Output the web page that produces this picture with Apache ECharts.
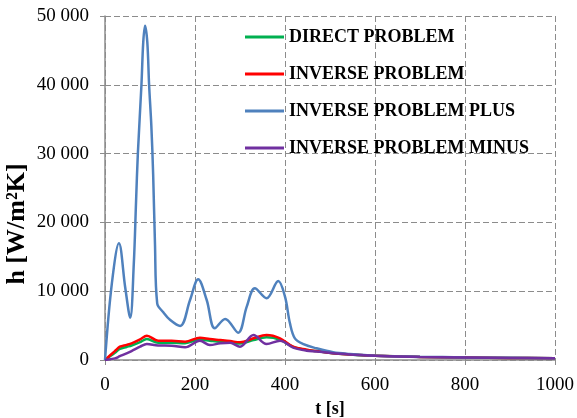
<!DOCTYPE html>
<html>
<head>
<meta charset="utf-8">
<script src="https://cdn.jsdelivr.net/npm/echarts@6/dist/echarts.min.js"></script>
<style>
  html, body { margin: 0; padding: 0; background: #fff; }
  #chart { width: 577px; height: 418px; }
</style>
</head>
<body>
<div id="chart"></div>
<script>
(function(){
  var myChart = echarts.init(document.getElementById('chart'));

  var seriesNames = ['DIRECT PROBLEM', 'INVERSE PROBLEM', 'INVERSE PROBLEM PLUS', 'INVERSE PROBLEM MINUS'];
  var colors = ['#00b050', '#ff0000', '#4f81bd', '#7030a0'];

  // time samples [s] for the direct / inverse / minus curves
  var times = [0, 22, 33, 48, 59, 78, 93, 118, 148, 178, 211, 233, 256, 278, 300, 330, 359, 389, 418, 448, 470, 507, 544, 600, 700, 800, 900, 1000];
  var direct  = [0, 1050, 1600, 1900, 2100, 2600, 3050, 2500, 2500, 2450, 2950, 2800, 2650, 2550, 2400, 2900, 3300, 2950, 1900, 1450, 1300, 970, 800, 610, 450, 370, 300, 250];
  var inverse = [0, 1300, 1930, 2200, 2420, 3000, 3540, 2800, 2800, 2660, 3240, 3050, 2900, 2750, 2570, 3150, 3630, 3150, 1930, 1500, 1300, 970, 800, 600, 450, 370, 300, 250];
  var minus   = [0, 240, 550, 970, 1300, 1930, 2330, 2100, 2080, 1840, 2800, 2180, 2420, 2520, 1930, 3630, 2330, 2800, 1800, 1350, 1250, 970, 800, 620, 450, 370, 300, 250];

  // time samples [s] for the "plus" curve
  var timesPlus = [0, 15, 31, 45, 56, 64, 69, 73, 81, 85, 89, 94, 98, 103, 107, 111, 116, 130, 145, 167, 189, 207, 226, 244, 267, 296, 315, 333, 359, 385, 400, 411, 422, 441, 470, 507, 544, 600, 700, 800, 900, 1000];
  var plus = [0, 11000, 16960, 10500, 6150, 14000, 23000, 30000, 40000, 46200, 48600, 46200, 40000, 34000, 27000, 17000, 8240, 6900, 5800, 4940, 8720, 11730, 8720, 4600, 5960, 3970, 7750, 10420, 8970, 11480, 9200, 5330, 3150, 2300, 1700, 1120, 870, 630, 480, 380, 310, 250];

  var xTicks = [0, 200, 400, 600, 800, 1000];

  function pairs(t, v) {
    var res = [];
    for (var i = 0; i < t.length; i++) res.push([t[i], v[i]]);
    return res;
  }
  function mkSeries(idx, data) {
    return {
      name: seriesNames[idx],
      type: 'line',
      data: data,
      symbol: 'none',
      smooth: 0.35,
      lineStyle: { color: colors[idx], width: 2.5 },
      itemStyle: { color: colors[idx] }
    };
  }

  var serif = '"Liberation Serif", "Times New Roman", serif';

  var option = {
    animation: false,
    grid: { left: 105, right: 22, top: 16, bottom: 58, containLabel: false, outerBoundsMode: 'none' },
    legend: {
      orient: 'vertical',
      left: 240,
      top: 23,
      icon: 'rect',
      itemWidth: 39,
      itemHeight: 3,
      itemGap: 19,
      data: seriesNames,
      textStyle: { fontFamily: serif, fontWeight: 'bold', fontSize: 18, color: '#000' }
    },
    xAxis: {
      type: 'value',
      min: 0,
      max: 1000,
      interval: 200,
      name: 't [s]',
      nameLocation: 'middle',
      nameGap: 34,
      nameTextStyle: { fontFamily: serif, fontWeight: 'bold', fontSize: 18, color: '#000' },
      axisLine: { lineStyle: { color: '#8c8c8c', width: 1.5 } },
      axisTick: { show: true, length: 5, lineStyle: { color: '#8c8c8c' } },
      axisLabel: {
        margin: 16,
        fontFamily: serif, fontSize: 19, color: '#000',
        formatter: function(v) { return xTicks.indexOf(v) >= 0 ? String(v) : ''; }
      },
      splitLine: { show: true, lineStyle: { color: '#8c8c8c', type: [6, 3], width: 1 } }
    },
    yAxis: {
      type: 'value',
      min: 0,
      max: 50000,
      interval: 10000,
      axisLine: { show: true, lineStyle: { color: '#8c8c8c', width: 1.5 } },
      axisTick: { show: true, length: 5, lineStyle: { color: '#8c8c8c' } },
      axisLabel: {
        margin: 16,
        fontFamily: serif, fontSize: 19, color: '#000',
        formatter: function(v) {
          return String(v).replace(/\B(?=(\d{3})+(?!\d))/g, ' ');
        }
      },
      splitLine: { show: true, lineStyle: { color: '#8c8c8c', type: [6, 3], width: 1 } }
    },
    graphic: [{
      type: 'text',
      x: 17,
      y: 224,
      rotation: Math.PI / 2,
      style: {
        text: 'h [W/m²K]',
        fontFamily: serif,
        fontWeight: 'bold',
        fontSize: 26,
        fill: '#000',
        align: 'center',
        verticalAlign: 'middle'
      }
    }],
    series: [
      mkSeries(0, pairs(times, direct)),
      mkSeries(1, pairs(times, inverse)),
      mkSeries(2, pairs(timesPlus, plus)),
      mkSeries(3, pairs(times, minus))
    ]
  };

  myChart.setOption(option);
  window.addEventListener('resize', function() {
    myChart.resize();
  });
})()
</script>
</body>
</html>
